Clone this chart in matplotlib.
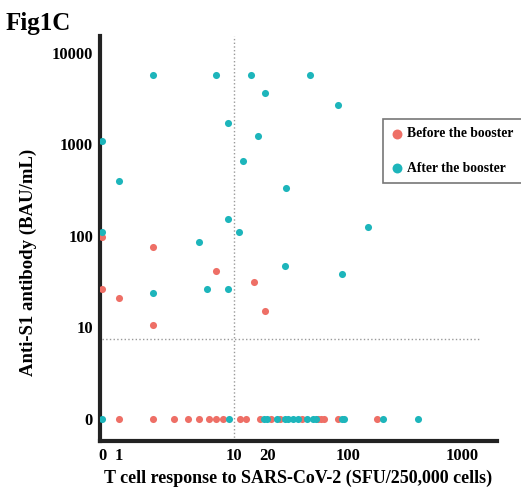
import matplotlib
matplotlib.use('Agg')
import matplotlib.pyplot as plt

# T cell response (x) and anti-S1 antibody (y), 0 = below detection
before_x = [0, 2, 7.1, 15.2, 0, 1, 19, 2,
            1, 2, 3, 4, 5, 6.1, 7, 8.1, 11.3, 12.9, 17.2, 21.4, 25.5, 40, 55, 58, 62, 82, 180]
before_y = [97, 76, 41, 31, 26, 21, 15.3, 10.5,
            0, 0, 0, 0, 0, 0, 0, 0, 0, 0, 0, 0, 0, 0, 0, 0, 0, 0, 0]

after_x = [2.0, 7.1, 14.1, 46.8, 19, 82, 9.0, 16.2, 0, 12.2, 1.0, 28.9, 149, 9.0, 11.1, 0,
           5.0, 28, 89, 5.9, 9.0, 2.0,
           0, 9.1, 18.6, 19.7, 24.2, 28.3, 30, 33.3, 36.6, 44, 49.7, 52, 89, 93, 201, 406]
after_y = [5700, 5700, 5700, 5700, 3670, 2700, 1700, 1220, 1080, 650, 400, 333, 125, 152, 110, 110,
           86, 47, 38, 26, 26, 24,
           0, 0, 0, 0, 0, 0, 0, 0, 0, 0, 0, 0, 0, 0, 0, 0]

x_ticks = [0, 1, 10, 20, 100, 1000]
y_ticks = [0, 10, 100, 1000, 10000]
cutoff_y = 8.7

red = '#EE6F66'
cyan = '#1DB5BB'
serif = 'Liberation Serif'

fig = plt.figure(figsize=(5.21, 4.9), dpi=100)
ax = fig.add_axes([0.192, 0.1, 0.762, 0.827])

ax.set_xscale('symlog', linthresh=1, linscale=0.133)
ax.set_yscale('symlog', linthresh=10, linscale=0.9)

ax.scatter(before_x, before_y, s=26, color=red, label='Before the booster', zorder=3, linewidths=0)
ax.scatter(after_x, after_y, s=26, color=cyan, label='After the booster', zorder=3, linewidths=0)

ax.axvline(10, color='#999999', linestyle=':', linewidth=1)
ax.plot([0, 1450], [cutoff_y, cutoff_y], color='#999999', linestyle=':', linewidth=1)

ax.set_xlim(-0.12, 2000)
ax.set_ylim(-2.4, 15300)

ax.set_xticks(x_ticks)
ax.set_xticklabels([str(t) for t in x_ticks])
ax.set_yticks(y_ticks)
ax.set_yticklabels([str(t) for t in y_ticks])
ax.minorticks_off()
ax.tick_params(axis='x', length=0, pad=5)
ax.tick_params(axis='y', length=0, pad=5)
for lab in ax.get_xticklabels() + ax.get_yticklabels():
    lab.set_fontfamily(serif)
    lab.set_fontweight('bold')
    lab.set_fontsize(12)

for s in ['top', 'right']:
    ax.spines[s].set_visible(False)
for s in ['left', 'bottom']:
    ax.spines[s].set_linewidth(3)
    ax.spines[s].set_color('#222222')

ax.set_xlabel('T cell response to SARS-CoV-2 (SFU/250,000 cells)', fontfamily=serif,
              fontweight='bold', fontsize=13)
ax.xaxis.set_label_coords(0.5, -0.072)
ax.set_ylabel('Anti-S1 antibody (BAU/mL)', fontfamily=serif, fontweight='bold', fontsize=13.5)
ax.yaxis.set_label_coords(-0.16, 0.44)

fig.text(0.01, 0.975, 'Fig1C', fontfamily=serif, fontweight='bold', fontsize=18, va='top')

leg = ax.legend(loc='upper left', bbox_to_anchor=(0.735, 0.757), bbox_transform=fig.transFigure,
                prop={'family': serif, 'weight': 'bold', 'size': 9.8}, fancybox=False,
                edgecolor='#555555', handletextpad=0.3, labelspacing=1.6, borderpad=0.6,
                borderaxespad=0, handlelength=0.9, markerscale=1.4)
leg.get_frame().set_linewidth(1.2)

fig.savefig('out.png', dpi=100)
